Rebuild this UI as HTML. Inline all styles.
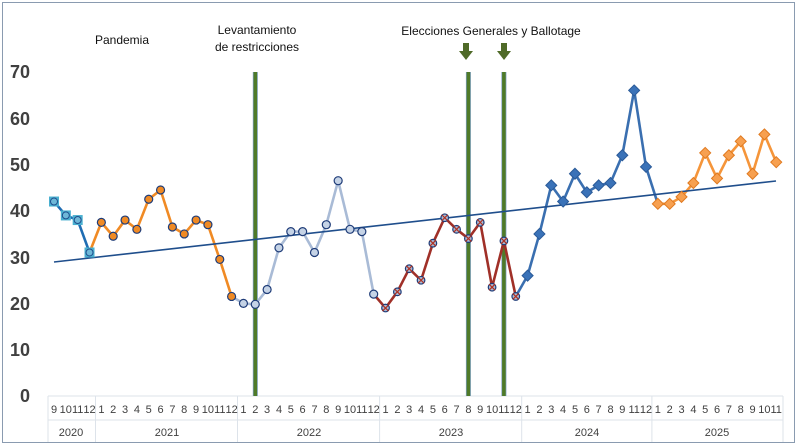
<!DOCTYPE html>
<html><head><meta charset="utf-8"><style>
body{margin:0;background:#fff;}
svg{display:block;font-family:"Liberation Sans",sans-serif;}
</style></head><body>
<svg id="s" width="798" height="446" viewBox="0 0 798 446">
<rect x="2.5" y="2.5" width="792" height="440" fill="#fff" stroke="#8a9bb0" stroke-width="1"/>
<g font-size="18" font-weight="bold" fill="#404040" text-anchor="end">
<text x="30" y="78">70</text><text x="30" y="125">60</text><text x="30" y="171">50</text>
<text x="30" y="217">40</text><text x="30" y="264">30</text><text x="30" y="310">20</text>
<text x="30" y="356">10</text><text x="30" y="402">0</text>
</g>
<g stroke="#dde3ea" stroke-width="1" fill="none">
<line x1="48" y1="396" x2="783" y2="396"/>
<line x1="48" y1="420" x2="783" y2="420"/>
<line x1="48" y1="396" x2="48" y2="442"/>
<line x1="95.5" y1="396" x2="95.5" y2="442"/>
<line x1="237.5" y1="396" x2="237.5" y2="442"/>
<line x1="379.6" y1="396" x2="379.6" y2="442"/>
<line x1="521.7" y1="396" x2="521.7" y2="442"/>
<line x1="651.9" y1="396" x2="651.9" y2="442"/>
<line x1="783" y1="396" x2="783" y2="442"/>
</g>
<g font-size="11" fill="#404040" text-anchor="middle">
<text x="54" y="413">9</text><text x="65.8" y="413">10</text><text x="77.7" y="413">11</text><text x="89.5" y="413">12</text>
<text x="101.4" y="413">1</text><text x="113.2" y="413">2</text><text x="125" y="413">3</text><text x="136.9" y="413">4</text><text x="148.7" y="413">5</text><text x="160.6" y="413">6</text><text x="172.4" y="413">7</text><text x="184.2" y="413">8</text><text x="196.1" y="413">9</text><text x="207.9" y="413">10</text><text x="219.8" y="413">11</text><text x="231.6" y="413">12</text>
<text x="243.4" y="413">1</text><text x="255.3" y="413">2</text><text x="267.1" y="413">3</text><text x="279" y="413">4</text><text x="290.8" y="413">5</text><text x="302.6" y="413">6</text><text x="314.5" y="413">7</text><text x="326.3" y="413">8</text><text x="338.2" y="413">9</text><text x="350" y="413">10</text><text x="361.8" y="413">11</text><text x="373.7" y="413">12</text>
<text x="385.5" y="413">1</text><text x="397.4" y="413">2</text><text x="409.2" y="413">3</text><text x="421" y="413">4</text><text x="432.9" y="413">5</text><text x="444.7" y="413">6</text><text x="456.6" y="413">7</text><text x="468.4" y="413">8</text><text x="480.2" y="413">9</text><text x="492.1" y="413">10</text><text x="503.9" y="413">11</text><text x="515.8" y="413">12</text>
<text x="527.6" y="413">1</text><text x="539.4" y="413">2</text><text x="551.3" y="413">3</text><text x="563.1" y="413">4</text><text x="575" y="413">5</text><text x="586.8" y="413">6</text><text x="598.6" y="413">7</text><text x="610.5" y="413">8</text><text x="622.3" y="413">9</text><text x="634.2" y="413">11</text><text x="646" y="413">12</text>
<text x="657.8" y="413">1</text><text x="669.7" y="413">2</text><text x="681.5" y="413">3</text><text x="693.4" y="413">4</text><text x="705.2" y="413">5</text><text x="717" y="413">6</text><text x="728.9" y="413">7</text><text x="740.7" y="413">8</text><text x="752.6" y="413">9</text><text x="764.4" y="413">10</text><text x="776.2" y="413">11</text>
<text x="71" y="436">2020</text><text x="167" y="436">2021</text><text x="309" y="436">2022</text><text x="451" y="436">2023</text><text x="587" y="436">2024</text><text x="717" y="436">2025</text>
</g>
<g font-size="12" fill="#111" text-anchor="middle">
<text x="122" y="44">Pandemia</text>
<text x="257" y="34">Levantamiento</text>
<text x="257" y="51">de restricciones</text>
<text x="491" y="35">Elecciones  Generales  y Ballotage</text>
</g>
<g id="vl"></g>
<g id="data"></g>
</svg>
<script>
var NS="http://www.w3.org/2000/svg";
function el(t,a,p){var e=document.createElementNS(NS,t);for(var k in a)e.setAttribute(k,a[k]);(p||document.getElementById('data')).appendChild(e);return e;}
function X(i){return 54+i*11.84;}
function Y(v){return 396-v*4.63;}
var v=[42,39,38,31,
37.5,34.5,38,36,42.5,44.5,36.5,35,38,37,29.5,21.5,
20,19.8,23,32,35.5,35.5,31,37,46.5,36,35.5,22,
19,22.5,27.5,25,33,38.5,36,34,37.5,23.5,33.5,21.5,
26,35,45.5,42,48,44,45.5,46,52,66,49.5,
41.5,41.5,43,46,52.5,47,52,55,48,56.5,50.5];
var vl=document.getElementById('vl');
[255.3,468.4,503.9].forEach(function(x){
 el('rect',{x:x-2.5,y:72,width:5,height:324,fill:'#7fa0c8'},vl);
 el('rect',{x:x-1.8,y:72,width:3.6,height:324,fill:'#4f7a28'},vl);
});
[466,504].forEach(function(x){
 el('rect',{x:x-3,y:43,width:6,height:8,fill:'#4f6a28'},vl);
 el('polygon',{points:(x-7)+',51 '+(x+7)+',51 '+x+',60',fill:'#4f6a28'},vl);
});
function seg(a,b,col){var p=[];for(var i=a;i<=b;i++)p.push(X(i)+','+Y(v[i]));el('polyline',{points:p.join(' '),fill:'none',stroke:col,'stroke-width':2.6,'stroke-linejoin':'round'});}
seg(0,3,'#1f6db3');seg(3,15,'#f08a24');seg(15,27,'#a9bbd6');seg(27,39,'#a03028');seg(39,50,'#3a6fb0');
el('line',{x1:X(50),y1:Y(v[50]),x2:X(51),y2:Y(v[51]),stroke:'#3a6fb0','stroke-width':2.6});
seg(51,61,'#f5953a');
el('line',{x1:54,y1:262,x2:776,y2:181,stroke:'#1f4e8c','stroke-width':1.6});
for(var i=0;i<62;i++){var x=X(i),y=Y(v[i]);
 if(i<4){el('rect',{x:x-5,y:y-5,width:10,height:10,fill:'#4ab0d0'});el('circle',{cx:x,cy:y,r:3.5,fill:'#6fb8d8',stroke:'#1f4e8c','stroke-width':1});}
 else if(i<16){el('circle',{cx:x,cy:y,r:4,fill:'#f08a24',stroke:'#1f3c78','stroke-width':1.2});}
 else if(i<28){el('circle',{cx:x,cy:y,r:4,fill:'#c5d3e6',stroke:'#1f3c78','stroke-width':1.2});}
 else if(i<40){el('circle',{cx:x,cy:y,r:3.8,fill:'#a9bbd6',stroke:'#1f3c78','stroke-width':1.2});el('path',{d:'M'+(x-3)+' '+(y-3)+'L'+(x+3)+' '+(y+3)+'M'+(x+3)+' '+(y-3)+'L'+(x-3)+' '+(y+3),stroke:'#b03020','stroke-width':1.2});}
 else if(i<51){el('polygon',{points:x+','+(y-5.5)+' '+(x+5.5)+','+y+' '+x+','+(y+5.5)+' '+(x-5.5)+','+y,fill:'#3a72b8',stroke:'#2a5a98','stroke-width':1});}
 else {el('polygon',{points:x+','+(y-5.5)+' '+(x+5.5)+','+y+' '+x+','+(y+5.5)+' '+(x-5.5)+','+y,fill:'#f7a050',stroke:'#e07a20','stroke-width':1});}
}
</script>
</body></html>
